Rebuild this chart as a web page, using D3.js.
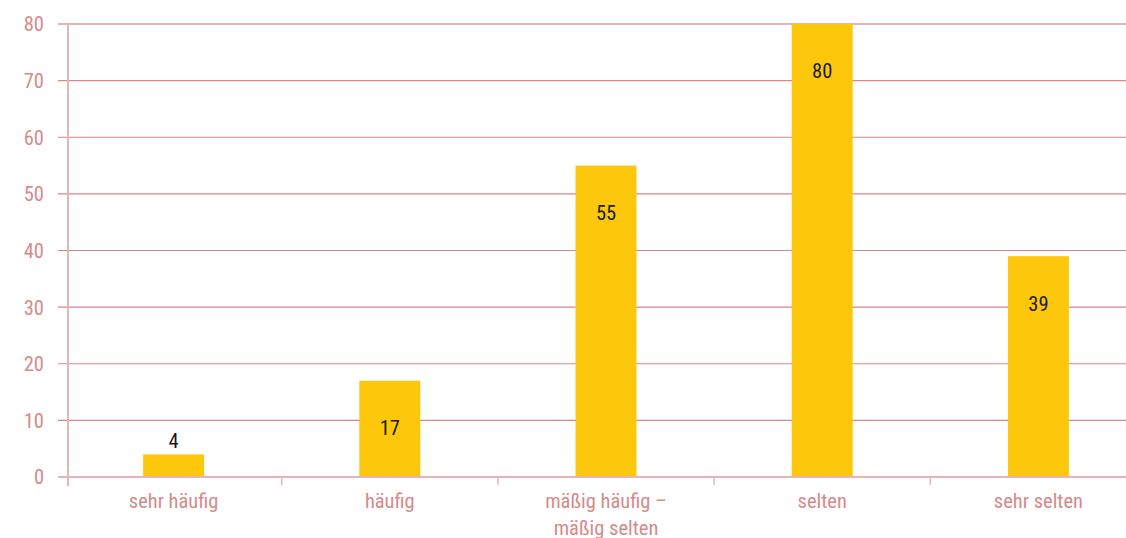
<!DOCTYPE html>
<html><head><meta charset="utf-8">
<script src="https://cdn.jsdelivr.net/npm/d3@7"></script>
<style>
html,body{margin:0;padding:0;background:#fff;}
svg text{font-family:"Liberation Sans Narrow","Roboto Condensed","Arial Narrow",Roboto,sans-serif;}
</style></head>
<body>
<svg id="c" width="1126" height="538"></svg>
<script>
const categories = ["sehr häufig", "häufig", "mäßig häufig –\nmäßig selten", "selten", "sehr selten"];
const values = [4, 17, 55, 80, 39];
const yTicks = [0, 10, 20, 30, 40, 50, 60, 70, 80];

(function () {
const svg = d3.select("#c");
const W = 1126;
const axisX = 68, plotTop = 24, plotBottom = 477;

const x = d3.scaleBand().domain(categories).range([65.5, 1146.5]).paddingInner(0.718).paddingOuter(0.359);
const xb = d3.scaleBand().domain(categories).range([65.5, 1146.5]);
const y = d3.scaleLinear().domain([0, 80]).range([plotBottom, plotTop]);

const gridCol = "#dc8585", axisCol = "#e4b5b5", textCol = "#d68a8a";

// gridlines
svg.append("g").selectAll("line").data(yTicks.filter(d => d > 0)).join("line")
  .attr("x1", 58).attr("x2", W).attr("y1", d => y(d)).attr("y2", d => y(d))
  .attr("stroke", d => d === 80 ? axisCol : gridCol).attr("stroke-width", d => d === 80 ? 2 : 1.2);

// y tick labels
svg.append("g").selectAll("text").data(yTicks).join("text")
  .attr("x", 44).attr("y", d => y(d)).attr("dy", "0.36em").attr("text-anchor", "end")
  .attr("fill", textCol).attr("font-size", 20.5).text(d => d);

// bars
svg.append("g").selectAll("rect").data(values).join("rect")
  .attr("x", (d, i) => x(categories[i])).attr("width", x.bandwidth())
  .attr("y", d => y(d)).attr("height", d => y(0) - y(d)).attr("fill", "#fdc80c");

// x axis line
svg.append("line").attr("x1", 58).attr("x2", W).attr("y1", y(0)).attr("y2", y(0))
  .attr("stroke", axisCol).attr("stroke-width", 2);
// y axis line
svg.append("line").attr("x1", axisX).attr("x2", axisX).attr("y1", plotTop).attr("y2", 486)
  .attr("stroke", axisCol).attr("stroke-width", 2);
// x ticks at band boundaries
svg.append("g").selectAll("line").data(categories.slice(1)).join("line")
  .attr("x1", d => xb(d)).attr("x2", d => xb(d)).attr("y1", y(0)).attr("y2", 485)
  .attr("stroke", axisCol).attr("stroke-width", 1.5);

// value labels
svg.append("g").selectAll("text").data(values).join("text")
  .attr("x", (d, i) => x(categories[i]) + x.bandwidth() / 2)
  .attr("y", d => (y(0) - y(d)) < 60 ? y(d) - 14 : y(d) + 47)
  .attr("dy", "0.36em").attr("text-anchor", "middle")
  .attr("fill", "#1a1a1a").attr("font-size", 20.5).text(d => d);

// category labels
const cl = svg.append("g").selectAll("text").data(categories).join("text")
  .attr("x", d => xb(d) + xb.bandwidth() / 2).attr("y", 501)
  .attr("text-anchor", "middle").attr("fill", textCol).attr("font-size", 20.5);
cl.each(function(d) {
  const t = d3.select(this);
  d.split("\n").forEach((s, k) => {
    t.append("tspan").attr("x", t.attr("x")).attr("dy", k === 0 ? "0.36em" : "1.28em").text(s);
  });
});
})();
</script>
</body></html>
